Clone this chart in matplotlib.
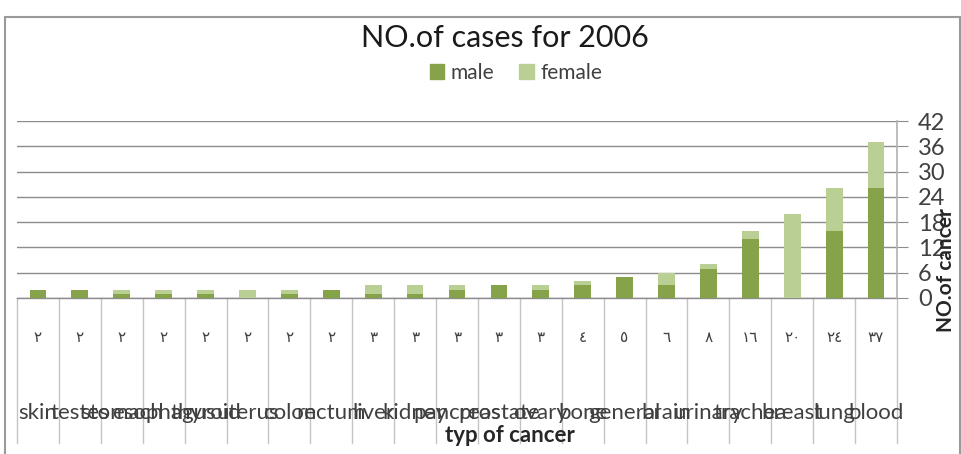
import matplotlib
matplotlib.use("Agg")
import matplotlib.pyplot as plt
from matplotlib.patches import Rectangle
from matplotlib.lines import Line2D
import matplotlib.transforms as mtransforms
from matplotlib import font_manager

# pick a narrow font if there is one
names = {f.name for f in font_manager.fontManager.ttflist}
FONT = "Liberation Sans Narrow" if "Liberation Sans Narrow" in names else "Lato"
plt.rcParams['font.family'] = [FONT, 'DejaVu Sans']

# data
categories = ["skin", "testes", "stomach", "esophagus", "thyroid", "uterus", "colon",
              "rectum", "liver", "kidney", "pancreas", "prostate", "ovary", "bone",
              "general", "brain", "urinary", "trachea", "breast", "lung", "blood"]
male = [2, 2, 1, 1, 1, 0, 1, 2, 1, 1, 2, 3, 2, 3, 5, 3, 7, 14, 0, 16, 26]
female = [0, 0, 1, 1, 1, 2, 1, 0, 2, 2, 1, 0, 1, 1, 0, 3, 1, 2, 20, 10, 11]
table_totals = [2, 2, 2, 2, 2, 2, 2, 2, 3, 3, 3, 3, 3, 4, 5, 6, 8, 16, 20, 24, 37]

DARK = "#86A34A"
LIGHT = "#B9CF94"
W, H = 962, 454

arabic = str.maketrans("0123456789", "٠١٢٣٤٥٦٧٨٩")

fig = plt.figure(figsize=(W / 100, H / 100), dpi=100)

# outer chart border
fig.patches.append(Rectangle((5 / W, -0.05), (955) / W, 1 - 17 / H + 0.05,
                             transform=fig.transFigure, fill=False,
                             edgecolor="#9a9a9a", linewidth=1.5))

ax = fig.add_axes([17 / W, 1 - 298 / H, (897 - 17) / W, (298 - 121) / H])
x = list(range(len(categories)))
ax.bar(x, male, width=0.4, color=DARK, zorder=3)
ax.bar(x, female, width=0.4, bottom=male, color=LIGHT, zorder=3)

ax.set_xlim(-0.5, len(categories) - 0.5)
ax.set_ylim(0, 42)
ax.set_yticks(range(0, 43, 6))
ax.yaxis.tick_right()
ax.tick_params(axis="y", direction="out", length=8, color="#8c8c8c",
               labelsize=17, pad=7, labelcolor="#404040")
ax.set_xticks([])
ax.grid(axis="y", color="#8c8c8c", linewidth=1, zorder=0)
for s in ["top", "left", "bottom"]:
    ax.spines[s].set_visible(False)
ax.spines["right"].set_color("#b0b0b0")
ax.spines["right"].set_linewidth(1.2)

# table below the bars
trans = mtransforms.blended_transform_factory(ax.transData, ax.transAxes)
px = 1 / (298 - 121)
for k in range(len(categories) + 1):
    ax.add_line(Line2D([k - 0.5, k - 0.5], [0, -(443 - 298) * px], transform=trans,
                       color="#c4c4c4", linewidth=1, clip_on=False))
ax.add_line(Line2D([-0.5, len(categories) - 0.5], [0, 0], transform=trans,
                   color="#8c8c8c", linewidth=1, clip_on=False))
for k, (c, t) in enumerate(zip(categories, table_totals)):
    ax.text(k, -(338 - 298) * px, str(t).translate(arabic), transform=trans,
            ha="center", va="center", fontsize=11, color="#404040",
            family=["DejaVu Sans"])
    ax.text(k, -(413 - 298) * px, c, transform=trans, ha="center", va="center",
            fontsize=16, color="#404040")

fig.text(510 / W, 1 - 435 / H, "typ of cancer", ha="center", va="center",
         fontsize=16, fontweight="bold", color="#262626")
fig.text(946 / W, 1 - 270 / H, "NO.of cancer", ha="center", va="center",
         rotation=90, fontsize=15, fontweight="bold", color="#262626")

fig.text(505 / W, 1 - 38 / H, "NO.of cases for 2006", ha="center", va="center",
         fontsize=22, color="#1a1a1a")

handles = [Rectangle((0, 0), 1, 1, color=DARK), Rectangle((0, 0), 1, 1, color=LIGHT)]
fig.legend(handles, ["male", "female"], loc="center", bbox_to_anchor=(516 / W, 1 - 73 / H),
           ncol=2, frameon=False, fontsize=15, handlelength=0.7, handleheight=0.7,
           handletextpad=0.3, columnspacing=1.2, labelcolor="#404040")

fig.savefig("out.png", dpi=100)
